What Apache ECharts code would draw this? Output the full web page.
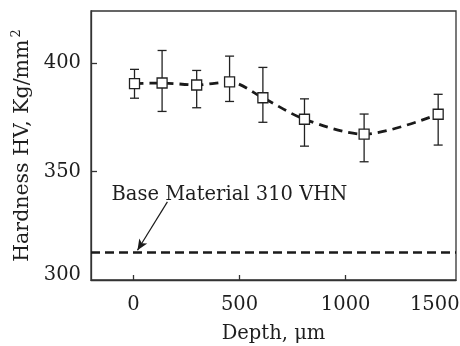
<!DOCTYPE html>
<html>
<head>
<meta charset="utf-8">
<script src="https://cdn.jsdelivr.net/npm/echarts@6/dist/echarts.min.js"></script>
<style>html,body{margin:0;padding:0;background:#fff}#c{width:460px;height:346px}</style>
</head>
<body>
<div id="c"></div>
<script>
// Data
var depth = [5, 135, 298, 453, 610, 806, 1087, 1436];
var hardness = [390.5, 390.8, 389.9, 391.3, 384.0, 374.1, 367.2, 376.4];
var errLow = [383.8, 377.7, 379.4, 382.3, 372.7, 361.7, 354.5, 362.2];
var errHigh = [397.1, 405.8, 396.6, 403.2, 398.0, 383.5, 376.5, 385.6];
var baseValue = 313;
var baseLabel = 'Base Material 310 VHN';
var xTickLabels = [0, 500, 1000, 1500];
var yTickLabels = [300, 350, 400];

var FONT = 'DejaVu Serif';
var INK = '#1e1e1e';
var FS = 19.5;

var pts = depth.map(function (d, i) { return [d, hardness[i]]; });
var errs = depth.map(function (d, i) { return [d, errLow[i], errHigh[i]]; });

var chart = echarts.init(document.getElementById('c'), null, {renderer: 'canvas'});
chart.setOption({
  animation: false,
  backgroundColor: '#fff',
  grid: {left: 91, right: 4, top: 11, bottom: 66, outerBoundsMode: 'none', containLabel: false,
    show: true, borderColor: '#333', borderWidth: 1.3, backgroundColor: 'transparent'},
  xAxis: {
    type: 'value', min: -200, max: 1520,
    name: 'Depth, μm', nameLocation: 'middle', nameGap: 44,
    nameTextStyle: {fontFamily: FONT, fontSize: FS, color: INK},
    axisLine: {show: true, onZero: false, lineStyle: {color: '#333', width: 1.3}},
    axisTick: {show: true, inside: true, length: 5, customValues: [0, 500, 1000], lineStyle: {color: '#333', width: 1.3}},
    axisLabel: {customValues: xTickLabels, fontFamily: FONT, fontSize: FS, color: INK, margin: 15,
      formatter: function (v) { return v === 1500 ? '{last|' + v + '}' : '' + v; },
      rich: {last: {fontFamily: FONT, fontSize: FS, color: INK, padding: [0, 34, 0, 0]}}},
    splitLine: {show: false}
  },
  yAxis: {
    type: 'value', min: 300, max: 424,
    name: 'Hardness HV, Kg/mm{sup|2}', nameLocation: 'middle', nameGap: 53, nameRotate: 90,
    nameTextStyle: {fontFamily: FONT, fontSize: 20.5, color: INK,
      rich: {sup: {fontFamily: FONT, fontSize: 13, color: INK, verticalAlign: 'top', padding: [0, 0, 12, 2]}}},
    axisLine: {show: true, onZero: false, lineStyle: {color: '#333', width: 1.3}},
    axisTick: {show: true, inside: true, length: 6, customValues: [350, 400], lineStyle: {color: '#333', width: 1.3}},
    axisLabel: {customValues: yTickLabels, fontFamily: FONT, fontSize: FS, color: INK, margin: 10,
      formatter: function (v) { return v === 300 ? '{first|' + v + '}' : '' + v; },
      rich: {first: {fontFamily: FONT, fontSize: FS, color: INK, padding: [0, 0, 10, 0]}}},
    splitLine: {show: false}
  },
  series: [
    {
      type: 'custom', z: 3,
      data: errs,
      renderItem: function (params, api) {
        var x = api.value(0);
        var lo = api.coord([x, api.value(1)]);
        var hi = api.coord([x, api.value(2)]);
        var w = 4.5;
        var st = {stroke: '#222', lineWidth: 1.3, fill: null};
        return {type: 'group', children: [
          {type: 'line', shape: {x1: lo[0], y1: lo[1], x2: hi[0], y2: hi[1]}, style: st},
          {type: 'line', shape: {x1: lo[0] - w, y1: lo[1], x2: lo[0] + w, y2: lo[1]}, style: st},
          {type: 'line', shape: {x1: hi[0] - w, y1: hi[1], x2: hi[0] + w, y2: hi[1]}, style: st}
        ]};
      }
    },
    {
      type: 'line', z: 2, data: pts, smooth: 0.3, showSymbol: false, symbol: 'none',
      lineStyle: {color: '#1a1a1a', width: 2.8, type: [9, 6]},
      markLine: {
        silent: true, animation: false,
        symbol: ['none', 'none'],
        label: {show: false},
        data: [
          {yAxis: baseValue, lineStyle: {color: '#1a1a1a', width: 2.6, type: [9, 5]}},
          [{coord: [160, 336], symbol: 'none'}, {coord: [19, 313.7], symbol: 'arrow', symbolSize: [7, 11], lineStyle: {color: '#1a1a1a', width: 1.2, type: 'solid'}}]
        ]
      },
      markPoint: {
        silent: true, symbol: 'rect', symbolSize: 1, itemStyle: {color: 'transparent'},
        label: {show: true, position: 'inside', formatter: baseLabel, fontFamily: FONT, fontSize: FS, color: INK},
        data: [{coord: [452, 339]}]
      }
    },
    {
      type: 'scatter', z: 5, data: pts, symbol: 'rect', symbolSize: 10,
      itemStyle: {color: '#fff', borderColor: '#222', borderWidth: 1.3, opacity: 1}
    }
  ]
});
</script>
</body>
</html>
